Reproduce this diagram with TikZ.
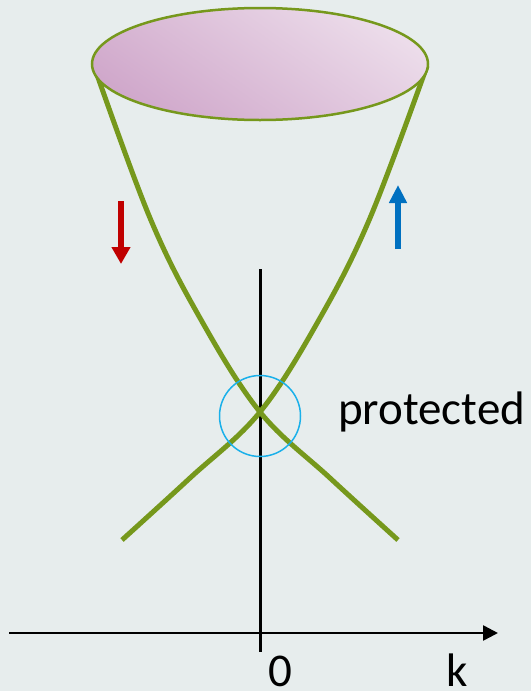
\documentclass[tikz,border=0pt]{standalone}
\usepackage{fontspec}
\setmainfont{Carlito}
\usetikzlibrary{arrows.meta}
\definecolor{bg}{HTML}{E7EDED}
\definecolor{cgreen}{HTML}{76981C}
\definecolor{cred}{HTML}{C00000}
\definecolor{cblue}{HTML}{0070C0}
\definecolor{ccyan}{HTML}{1AB0EA}
\definecolor{pdark}{HTML}{D0A8CB}
\definecolor{plight}{HTML}{ECDCEA}
\tikzset{
  band/.style={cgreen, line width=5pt},
  axisline/.style={black, line width=2.6pt},
  lbl/.style={font=\fontsize{47}{52}\selectfont, inner sep=0pt, anchor=base},
}
\begin{document}
\begin{tikzpicture}[x=1pt,y=-1pt]
\fill[bg] (0,0) rectangle (531,691);
\useasboundingbox (0,0) rectangle (531,691);
% axes
\coordinate (vtop) at (260,269);
\coordinate (vbot) at (260,652);
\coordinate (hl) at (9,633);
\coordinate (hr) at (498,633);
\draw[axisline, line width=3pt] (vtop) -- (vbot);
\draw[axisline, -{Triangle[length=15pt,width=15pt]}] (hl) -- (hr);
% bands
\draw[band] plot[smooth, tension=0.6] coordinates {(94,66) (150,218) (200,318) (260,412) (330,478) (398,540)};
\draw[band] plot[smooth, tension=0.6] coordinates {(427,66) (370,218) (320,318) (260,412) (190,478) (122,540)};
% top ellipse
\path[draw=cgreen, line width=2.5pt, top color=plight, bottom color=pdark, shading angle=-35]
  (260,64) ellipse [x radius=168pt, y radius=56pt];
\node[inner sep=0pt] (top) at (260,64) {};
% protected circle
\node[draw=ccyan, line width=1.5pt, circle, minimum size=81pt, inner sep=0pt] (prot) at (260,416) {};
% spin arrows
\coordinate (rs) at (121,201);
\coordinate (re) at (121,264);
\draw[cred, line width=6pt, -{Triangle[length=17pt,width=18pt]}] (rs) -- (re);
\coordinate (bs) at (398,249);
\coordinate (be) at (398,185);
\draw[cblue, line width=6pt, -{Triangle[length=18pt,width=17pt]}] (bs) -- (be);
% labels
\node[lbl, anchor=base west] (plabel) at (338,424) {protected};
\node[lbl] (zero) at (280,686) {0};
\node[lbl] (k) at (457,686) {k};
\end{tikzpicture}
\end{document}
